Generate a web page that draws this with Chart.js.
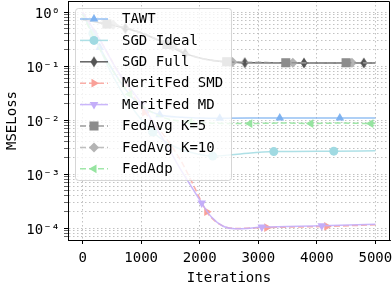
<!DOCTYPE html>
<html><head><meta charset="utf-8">
<script src="https://cdn.jsdelivr.net/npm/chart.js@4/dist/chart.umd.min.js"></script>
<style>html,body{margin:0;padding:0;background:#fff}#wrap{width:392px;height:290px}</style>
</head><body><div id="wrap"><canvas id="c" width="392" height="290"></canvas></div>
<script>
// ---- data ----
const xTickValues = [0, 1000, 2000, 3000, 4000, 5000];
const xTickLabels = ['0', '1000', '2000', '3000', '4000', '5000'];
const yMajorTicks = [1e-4, 1e-3, 1e-2, 1e-1, 1];
const yTickLabels = ['10\u207B\u2074', '10\u207B\u00B3', '10\u207B\u00B2', '10\u207B\u00B9', '10\u2070'];
const seriesNames = ['TAWT', 'SGD Ideal', 'SGD Full', 'MeritFed SMD', 'MeritFed MD', 'FedAvg K=5', 'FedAvg K=10', 'FedAdp'];

const tawtX = [0, 150, 292, 500, 750, 1000, 1317, 1700, 2000, 2342, 3367, 4393, 5000];
const tawtY = [0.95, 0.45, 0.22, 0.09, 0.035, 0.018, 0.0125, 0.0112, 0.0109, 0.0108, 0.0109, 0.0109, 0.0109];
const tawtMarks = [292, 1317, 2342, 3367, 4393];

const sgdIdealX = [0, 175, 450, 800, 1197, 1600, 2000, 2222, 2600, 3265, 4290, 5000];
const sgdIdealY = [0.9, 0.4, 0.09, 0.02, 0.006, 0.0031, 0.0023, 0.00215, 0.0023, 0.0026, 0.00265, 0.0027];
const sgdIdealMarks = [175, 1197, 2222, 3265, 4290];

const sgdFullX = [0, 400, 730, 1000, 1300, 1750, 2200, 2500, 2770, 3780, 4803, 5000];
const sgdFullY = [0.72, 0.6, 0.5, 0.41, 0.3, 0.17, 0.128, 0.119, 0.115, 0.114, 0.114, 0.114];
const sgdFullMarks = [730, 1750, 2770, 3780, 4803];

const meritSmdX = [0, 300, 600, 1060, 1400, 1700, 1900, 2120, 2300, 2600, 2900, 3145, 4170, 5000];
const meritSmdY = [1.0, 0.3, 0.08, 0.014, 0.005, 0.0016, 0.0006, 0.0002, 0.000125, 0.000098, 0.0001, 0.000102, 0.000107, 0.000115];
const meritSmdMarks = [1060, 2120, 3145, 4170];

const meritMdX = [0, 300, 600, 1009, 1300, 1500, 1658, 1830, 2034, 2200, 2400, 2600, 2800, 3060, 4085, 5000];
const meritMdY = [1.0, 0.3, 0.08, 0.02, 0.006, 0.0026, 0.0013, 0.00065, 0.00029, 0.00016, 0.000108, 0.000097, 0.000098, 0.000104, 0.00011, 0.000118];
const meritMdMarks = [1009, 2034, 3060, 4085];

const fedAvg5X = [0, 415, 900, 1440, 1900, 2460, 3000, 3470, 4500, 5000];
const fedAvg5Y = [0.74, 0.6, 0.45, 0.25, 0.15, 0.12, 0.116, 0.115, 0.115, 0.115];
const fedAvg5Marks = [415, 1440, 2460, 3470, 4500];

const fedAvg10X = [0, 520, 1000, 1540, 2000, 2560, 3000, 3590, 4600, 5000];
const fedAvg10Y = [0.76, 0.58, 0.42, 0.23, 0.14, 0.119, 0.116, 0.115, 0.115, 0.115];
const fedAvg10Marks = [520, 1540, 2560, 3590, 4600];

const fedAdpX = [0, 300, 805, 1300, 1830, 2300, 2855, 3400, 3897, 4400, 4923, 5000];
const fedAdpY = [0.9, 0.2, 0.03, 0.012, 0.0092, 0.0087, 0.0086, 0.0088, 0.0086, 0.0088, 0.0086, 0.0087];
const fedAdpMarks = [805, 1830, 2855, 3897, 4923];

// ---- styling ----
const FONT = "'DejaVu Sans Mono', monospace";
function thinDiamond(color) {
  const c = document.createElement('canvas'); c.width = 8; c.height = 12;
  const g = c.getContext('2d'); g.fillStyle = color; g.beginPath();
  g.moveTo(4, 0.5); g.lineTo(7.5, 6); g.lineTo(4, 11.5); g.lineTo(0.5, 6); g.closePath(); g.fill();
  return c;
}
const series = [
  {x: tawtX, y: tawtY, m: tawtMarks, color: 'rgba(122,176,240,0.8)', mc: 'rgba(122,176,240,0.95)', dash: [], style: 'triangle', rot: 0, r: 5, z: 8},
  {x: sgdIdealX, y: sgdIdealY, m: sgdIdealMarks, color: 'rgba(160,218,226,0.85)', mc: 'rgba(160,218,226,1)', dash: [], style: 'circle', rot: 0, r: 4.5, z: 7},
  {x: sgdFullX, y: sgdFullY, m: sgdFullMarks, color: 'rgba(80,80,80,0.9)', mc: 'rgba(80,80,80,1)', dash: [], style: thinDiamond('#555555'), rot: 0, r: 5, z: 6},
  {x: meritSmdX, y: meritSmdY, m: meritSmdMarks, color: 'rgba(249,160,152,0.85)', mc: 'rgba(249,160,152,1)', dash: [6, 3], style: 'triangle', rot: 90, r: 5, z: 5},
  {x: meritMdX, y: meritMdY, m: meritMdMarks, color: 'rgba(196,174,249,0.9)', mc: 'rgba(196,174,249,1)', dash: [], style: 'triangle', rot: 180, r: 5, z: 4},
  {x: fedAvg5X, y: fedAvg5Y, m: fedAvg5Marks, color: 'rgba(140,140,140,0.85)', mc: 'rgba(140,140,140,1)', dash: [6, 3], style: 'rect', rot: 0, r: 6.4, z: 2},
  {x: fedAvg10X, y: fedAvg10Y, m: fedAvg10Marks, color: 'rgba(180,180,180,0.85)', mc: 'rgba(180,180,180,1)', dash: [6, 3], style: 'rectRot', rot: 0, r: 5, z: 3},
  {x: fedAdpX, y: fedAdpY, m: fedAdpMarks, color: 'rgba(150,228,160,0.9)', mc: 'rgba(150,228,160,1)', dash: [6, 3], style: 'triangle', rot: 270, r: 5, z: 1}
];

const datasets = series.map((s, i) => ({
  label: seriesNames[i],
  data: s.x.map((x, k) => ({x: x, y: s.y[k]})),
  borderColor: s.color,
  backgroundColor: s.mc,
  pointBackgroundColor: s.mc,
  pointBorderColor: s.mc,
  borderWidth: 1.5,
  borderDash: s.dash,
  pointStyle: s.style,
  pointRotation: s.rot,
  pointRadius: ctx => (ctx.raw && s.m.includes(ctx.raw.x)) ? s.r : 0,
  pointHoverRadius: 0,
  pointBorderWidth: 0,
  cubicInterpolationMode: 'monotone',
  fill: false,
  order: s.z
}));

const gridColor = 'rgba(170,170,170,0.9)';
const legendPlugin = {
  id: 'boxLegend',
  afterDatasetsDraw(chart) {
    const ctx = chart.ctx;
    ctx.save();
    const bx = 75.5, by = 8.5, bw = 156, bh = 172, rr = 3;
    ctx.beginPath();
    ctx.moveTo(bx + rr, by); ctx.lineTo(bx + bw - rr, by); ctx.arcTo(bx + bw, by, bx + bw, by + rr, rr);
    ctx.lineTo(bx + bw, by + bh - rr); ctx.arcTo(bx + bw, by + bh, bx + bw - rr, by + bh, rr);
    ctx.lineTo(bx + rr, by + bh); ctx.arcTo(bx, by + bh, bx, by + bh - rr, rr);
    ctx.lineTo(bx, by + rr); ctx.arcTo(bx, by, bx + rr, by, rr); ctx.closePath();
    ctx.fillStyle = 'rgba(255,255,255,0.8)'; ctx.fill();
    ctx.strokeStyle = 'rgba(204,204,204,0.8)'; ctx.lineWidth = 1; ctx.stroke();
    series.forEach((s, i) => {
      const yc = 19 + i * 21.4;
      ctx.save();
      ctx.strokeStyle = s.color; ctx.lineWidth = 1.5; ctx.setLineDash(s.dash);
      ctx.beginPath(); ctx.moveTo(80, yc); ctx.lineTo(108, yc); ctx.stroke();
      ctx.restore();
      ctx.save();
      ctx.fillStyle = s.mc; ctx.strokeStyle = s.mc; ctx.lineWidth = 0;
      Chart.helpers.drawPoint(ctx, {pointStyle: s.style, rotation: s.rot, radius: s.r, borderWidth: 0}, 94, yc);
      ctx.restore();
      ctx.fillStyle = '#000'; ctx.font = '14px ' + FONT; ctx.textBaseline = 'middle'; ctx.textAlign = 'left';
      ctx.fillText(seriesNames[i], 122, yc + 0.5);
    });
    ctx.restore();
  },
  afterDraw(chart) {
    const {ctx, chartArea: a} = chart;
    ctx.save(); ctx.strokeStyle = '#000'; ctx.lineWidth = 1;
    ctx.beginPath();
    ctx.moveTo(a.left, a.top + 0.5); ctx.lineTo(a.right - 0.5, a.top + 0.5); ctx.lineTo(a.right - 0.5, a.bottom);
    ctx.stroke(); ctx.restore();
  }
};

new Chart(document.getElementById('c'), {
  type: 'line',
  data: {datasets: datasets},
  plugins: [legendPlugin],
  options: {
    responsive: false,
    animation: false,
    layout: {padding: {top: 1, right: 2, left: 0, bottom: 0}},
    plugins: {legend: {display: false}, tooltip: {enabled: false}},
    scales: {
      x: {
        type: 'linear', min: -250, max: 5250,
        afterBuildTicks: sc => { sc.ticks = xTickValues.map(v => ({value: v})); },
        afterFit: sc => { sc.height = 50; sc.paddingLeft = 0; sc.paddingRight = 0; },
        ticks: {color: '#000', font: {family: FONT, size: 14}, padding: 6, maxRotation: 0, autoSkip: false,
                callback: v => { const i = xTickValues.indexOf(v); return i >= 0 ? xTickLabels[i] : String(v); }},
        grid: {color: gridColor, lineWidth: 0.8, tickLength: 4, tickColor: '#000', tickWidth: 1},
        border: {color: '#000', width: 1, dash: [1.5, 2.5]},
        title: {display: true, text: 'Iterations', color: '#000', font: {family: FONT, size: 14}, padding: {top: 0, bottom: 3}}
      },
      y: {
        type: 'logarithmic', min: 6.0e-5, max: 1.6,
        afterBuildTicks: sc => {
          const t = [];
          for (let e = -5; e <= 0; e++) for (let k = 1; k <= 9; k++) {
            const v = k * Math.pow(10, e);
            if (v >= sc.min * 1.0001 && v <= sc.max * 0.9999) t.push({value: v, major: k === 1});
          }
          sc.ticks = t;
        },
        afterFit: sc => { sc.width = 68; sc.paddingTop = 0; sc.paddingBottom = 0; },
        ticks: {
          color: '#000', font: {family: FONT, size: 14}, padding: 4, autoSkip: false, labelOffset: 2,
          callback: v => {
            const idx = yMajorTicks.findIndex(m => Math.abs(Math.log10(m) - Math.log10(v)) < 1e-6);
            return idx >= 0 ? yTickLabels[idx] : '';
          }
        },
        grid: {color: gridColor, lineWidth: 0.8, tickLength: 4, tickColor: '#000',
               tickWidth: c => (c.tick && yMajorTicks.some(m => Math.abs(Math.log10(m) - Math.log10(c.tick.value)) < 1e-6)) ? 1 : 0.6},
        border: {color: '#000', width: 1, dash: [1.5, 2.5]},
        title: {display: true, text: 'MSELoss', color: '#000', font: {family: FONT, size: 14}, padding: {top: 4, bottom: 0}}
      }
    }
  }
});
</script></body></html>
